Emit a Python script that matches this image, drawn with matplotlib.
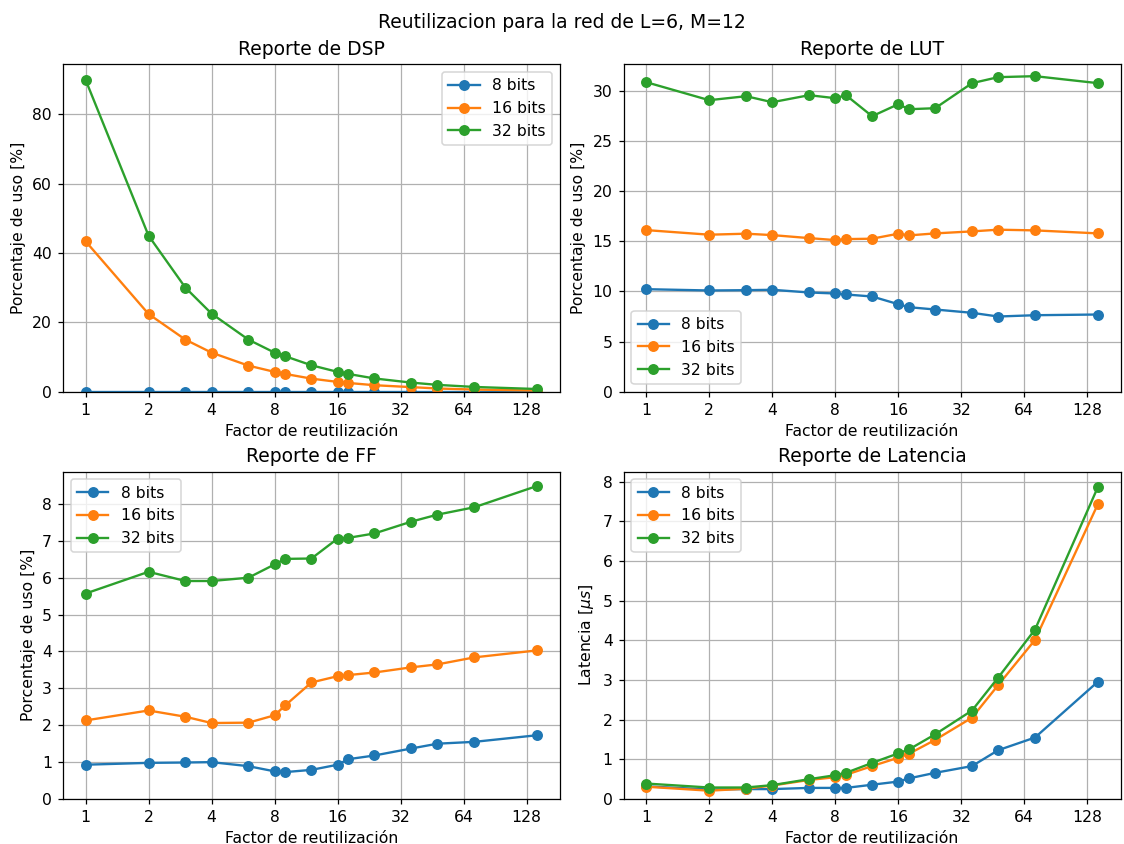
import matplotlib
matplotlib.use("Agg")
import matplotlib.pyplot as plt
from matplotlib.ticker import FixedLocator, FixedFormatter, NullLocator

reuse = [1, 2, 3, 4, 6, 8, 9, 12, 16, 18, 24, 36, 48, 72, 144]
labels = ["8 bits", "16 bits", "32 bits"]

dsp_8 = [0, 0, 0, 0, 0, 0, 0, 0, 0, 0, 0, 0, 0, 0, 0]
dsp_16 = [43.4, 22.4, 15.0, 11.25, 7.5, 5.7, 5.1, 3.75, 2.8, 2.5, 1.85, 1.3, 0.9, 0.6, 0.3]
dsp_32 = [90.0, 45.0, 30.0, 22.5, 15.0, 11.25, 10.2, 7.6, 5.7, 5.1, 3.8, 2.6, 1.95, 1.35, 0.75]

lut_8 = [10.23, 10.1, 10.13, 10.17, 9.9, 9.8, 9.7, 9.5, 8.73, 8.43, 8.2, 7.87, 7.5, 7.63, 7.7]
lut_16 = [16.13, 15.67, 15.77, 15.63, 15.33, 15.13, 15.23, 15.27, 15.77, 15.6, 15.8, 16.0, 16.17, 16.1, 15.8]
lut_32 = [30.9, 29.1, 29.5, 28.9, 29.6, 29.3, 29.6, 27.5, 28.7, 28.2, 28.3, 30.8, 31.4, 31.5, 30.8]

ff_8 = [0.93, 0.98, 0.99, 1.0, 0.89, 0.75, 0.73, 0.79, 0.93, 1.08, 1.18, 1.37, 1.50, 1.55, 1.73]
ff_16 = [2.13, 2.40, 2.23, 2.06, 2.07, 2.27, 2.54, 3.16, 3.33, 3.36, 3.43, 3.57, 3.65, 3.84, 4.03]
ff_32 = [5.57, 6.16, 5.91, 5.91, 6.0, 6.36, 6.51, 6.52, 7.06, 7.08, 7.2, 7.52, 7.71, 7.91, 8.49]

lat_8 = [0.32, 0.24, 0.25, 0.25, 0.28, 0.28, 0.28, 0.36, 0.44, 0.52, 0.66, 0.83, 1.23, 1.55, 2.96]
lat_16 = [0.31, 0.21, 0.26, 0.34, 0.48, 0.55, 0.61, 0.83, 1.04, 1.14, 1.49, 2.05, 2.87, 4.01, 7.44]
lat_32 = [0.39, 0.29, 0.29, 0.35, 0.50, 0.60, 0.66, 0.91, 1.15, 1.25, 1.63, 2.23, 3.06, 4.27, 7.87]

xticks = [1, 2, 4, 8, 16, 32, 64, 128]

panels = [
    ("Reporte de DSP", "Porcentaje de uso [%]", [dsp_8, dsp_16, dsp_32], "upper right"),
    ("Reporte de LUT", "Porcentaje de uso [%]", [lut_8, lut_16, lut_32], "lower left"),
    ("Reporte de FF", "Porcentaje de uso [%]", [ff_8, ff_16, ff_32], "upper left"),
    ("Reporte de Latencia", r"Latencia [$\mu s$]", [lat_8, lat_16, lat_32], "upper left"),
]

DPI = 112.4
fig, axes = plt.subplots(2, 2, figsize=(1124 / DPI, 844 / DPI), dpi=DPI)
for ax, (title, ylabel, series, loc) in zip(axes.flat, panels):
    for s, lab in zip(series, labels):
        ax.plot(reuse, s, marker="o", label=lab)
    ax.set_xscale("log", base=2)
    ax.xaxis.set_major_locator(FixedLocator(xticks))
    ax.xaxis.set_major_formatter(FixedFormatter([str(t) for t in xticks]))
    ax.xaxis.set_minor_locator(NullLocator())
    ax.set_ylim(bottom=0)
    ax.set_title(title)
    ax.set_xlabel("Factor de reutilización")
    ax.set_ylabel(ylabel)
    ax.grid(True)
    ax.legend(loc=loc)

fig.suptitle("Reutilizacion para la red de L=6, M=12", y=0.985)
fig.subplots_adjust(left=0.056, right=0.997, top=0.924, bottom=0.0533,
                    wspace=0.128, hspace=0.244)
fig.savefig("out.png", dpi=DPI)
